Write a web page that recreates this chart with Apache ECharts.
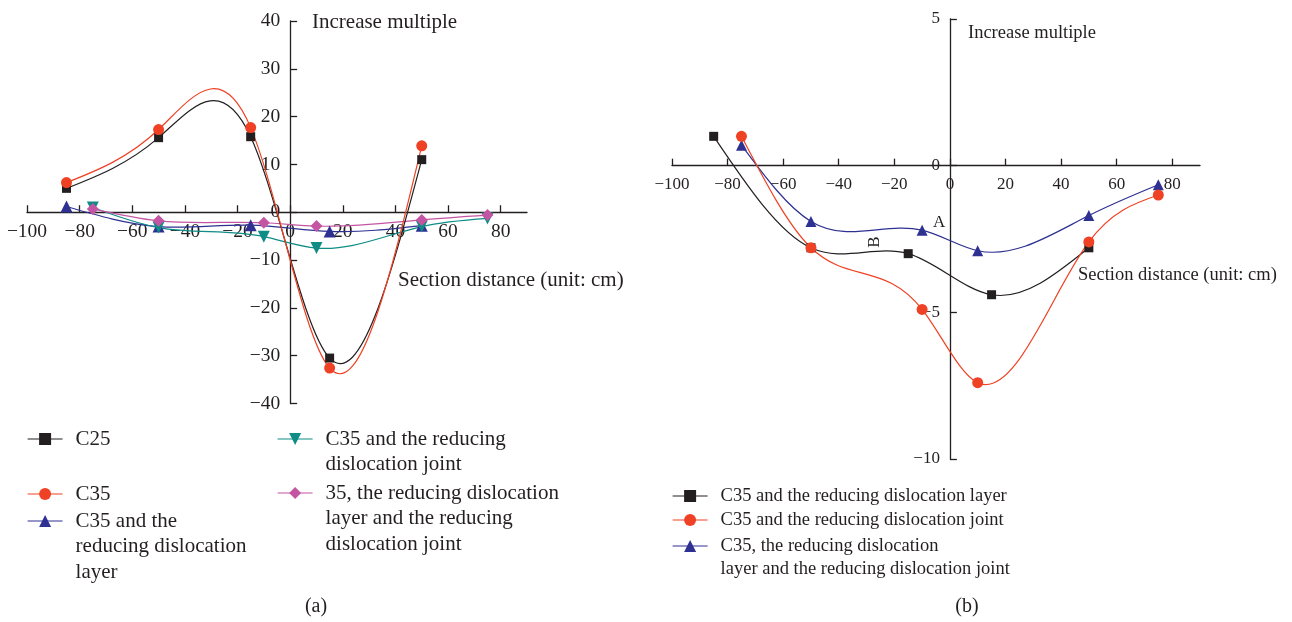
<!DOCTYPE html>
<html>
<head>
<meta charset="utf-8">
<script src="https://cdn.jsdelivr.net/npm/echarts@6/dist/echarts.min.js"></script>
<style>html,body{margin:0;padding:0;background:#fff}#c{width:1292px;height:622px}</style>
</head>
<body>
<div id="c"></div>
<script>
// ---- tick values ----
const xTicksA = [-100, -80, -60, -40, -20, 0, 20, 40, 60, 80];
const yTicksA = [-40, -30, -20, -10, 0, 10, 20, 30, 40];
const xTicksB = [-100, -80, -60, -40, -20, 0, 20, 40, 60, 80];
const yTicksB = [-10, -5, 0, 5];

// ---- chart (a) ----
const aC25X = [-85, -50, -15, 15, 50];
const aC25Y = [5.0, 15.6, 15.8, -30.5, 11.0];
const aC35X = [-85, -50, -15, 15, 50];
const aC35Y = [6.2, 17.3, 17.7, -32.6, 13.9];
const aLayerX = [-85, -50, -15, 15, 50];
const aLayerY = [1.2, -3.0, -2.7, -4.0, -2.8];
const aJointX = [-75, -50, -10, 10, 50, 75];
const aJointY = [1.0, -3.2, -5.1, -7.5, -3.0, -1.3];
const aAllX = [-75, -50, -10, 10, 50, 75];
const aAllY = [0.7, -1.8, -2.2, -2.9, -1.6, -0.6];

// ---- chart (b) ----
const bLayerX = [-85, -50, -15, 15, 50];
const bLayerY = [1.0, -2.8, -3.0, -4.4, -2.8];
const bJointX = [-75, -50, -10, 10, 50, 75];
const bJointY = [1.0, -2.8, -4.9, -7.4, -2.6, -1.0];
const bAllX = [-75, -50, -10, 10, 50, 75];
const bAllY = [0.7, -1.9, -2.2, -2.9, -1.7, -0.65];

const nameA1 = 'C25';
const nameA2 = 'C35';
const nameA3 = 'C35 and the\nreducing dislocation\nlayer';
const nameA4 = 'C35 and the reducing\ndislocation joint';
const nameA5 = '35, the reducing dislocation\nlayer and the reducing\ndislocation joint';
const nameB1 = 'C35 and the reducing dislocation layer';
const nameB2 = 'C35 and the reducing dislocation joint';
const nameB3 = 'C35, the reducing dislocation\nlayer and the reducing dislocation joint';

const FONT = '"Liberation Serif", "Times New Roman", serif';
const INK = '#231f20';
const BLACK = '#231f20', RED = '#ef4123', NAVY = '#2e3192', TEAL = '#0f8c86', PINK = '#c455a3';
const DOWN = 'path://M0,0L10,0L5,10Z';

const GA = { left: 27, top: 21, width: 500, height: 382.5 };
const GB = { left: 672, top: 19, width: 528, height: 440 };
const XR = [-100, 90], YRA = [-40, 40], YRB = [-10, 5];

function minus(v) { return String(v).replace('-', '\u2212'); }

// natural cubic spline -> list of bezier segments (in data space)
function splineSegs(xs, ys) {
  const n = xs.length, h = [], s = [];
  for (let i = 0; i < n - 1; i++) { h.push(xs[i + 1] - xs[i]); s.push((ys[i + 1] - ys[i]) / h[i]); }
  const M = new Array(n).fill(0);
  const m = n - 2;
  if (m > 0) {
    const a = [], b = [], c = [], d = [];
    for (let i = 1; i <= m; i++) {
      a.push(h[i - 1]); b.push(2 * (h[i - 1] + h[i])); c.push(h[i]); d.push(6 * (s[i] - s[i - 1]));
    }
    for (let i = 1; i < m; i++) {
      const w = a[i] / b[i - 1];
      b[i] -= w * c[i - 1]; d[i] -= w * d[i - 1];
    }
    const sol = new Array(m);
    sol[m - 1] = d[m - 1] / b[m - 1];
    for (let i = m - 2; i >= 0; i--) sol[i] = (d[i] - c[i] * sol[i + 1]) / b[i];
    for (let i = 0; i < m; i++) M[i + 1] = sol[i];
  }
  const segs = [];
  for (let i = 0; i < n - 1; i++) {
    const d0 = s[i] - h[i] * (2 * M[i] + M[i + 1]) / 6;
    const d1 = s[i] + h[i] * (M[i] + 2 * M[i + 1]) / 6;
    segs.push([
      [xs[i], ys[i]],
      [xs[i] + h[i] / 3, ys[i] + h[i] * d0 / 3],
      [xs[i + 1] - h[i] / 3, ys[i + 1] - h[i] * d1 / 3],
      [xs[i + 1], ys[i + 1]]
    ]);
  }
  return segs;
}

function xAx(gi, fs, ticks, g, yr) {
  const off = -(0 - yr[0]) / (yr[1] - yr[0]) * g.height;
  return {
    type: 'value', gridIndex: gi, min: XR[0], max: XR[1], interval: 20, position: 'bottom', offset: off,
    axisLine: { onZero: false, lineStyle: { color: INK, width: 1.3 } },
    axisTick: { inside: true, length: 7, customValues: ticks, lineStyle: { color: INK, width: 1.3 } },
    axisLabel: { customValues: ticks, formatter: minus, margin: 10, fontFamily: FONT, fontSize: fs, color: INK },
    splitLine: { show: false }
  };
}
function yAx(gi, fs, ticks, yr, iv, g) {
  const off = -(0 - XR[0]) / (XR[1] - XR[0]) * g.width;
  return {
    type: 'value', gridIndex: gi, min: yr[0], max: yr[1], interval: iv, position: 'left', offset: off,
    axisLine: { onZero: false, lineStyle: { color: INK, width: 1.3 } },
    axisTick: { inside: true, length: 7, customValues: ticks, lineStyle: { color: INK, width: 1.3 } },
    axisLabel: { customValues: ticks, formatter: minus, margin: 10, fontFamily: FONT, fontSize: fs, color: INK },
    splitLine: { show: false }
  };
}
function marks(name, xs, ys, color, symbol, size, gi) {
  return {
    name: name, type: 'line', xAxisIndex: gi, yAxisIndex: gi,
    data: xs.map((x, i) => [x, ys[i]]),
    symbol: symbol, symbolSize: size, showAllSymbol: true, z: 5,
    lineStyle: { color: color, width: 1.2, opacity: 0 }, itemStyle: { color: color },
    emphasis: { disabled: true }, silent: true
  };
}
function curve(xs, ys, color, gi) {
  const segs = splineSegs(xs, ys);
  return {
    type: 'custom', coordinateSystem: 'cartesian2d', xAxisIndex: gi, yAxisIndex: gi,
    data: xs.map((x, i) => [x, ys[i]]), clip: false, silent: true, z: 3,
    renderItem: function (params, api) {
      const i = params.dataIndex;
      if (i >= segs.length) return null;
      const p = segs[i].map(q => api.coord(q));
      return {
        type: 'bezierCurve',
        shape: { x1: p[0][0], y1: p[0][1], cpx1: p[1][0], cpy1: p[1][1], cpx2: p[2][0], cpy2: p[2][1], x2: p[3][0], y2: p[3][1] },
        style: { stroke: color, lineWidth: 1.2, fill: 'none' }
      };
    }
  };
}
function lg(name, left, c, N, L, fs, color) {
  return {
    data: [name], left: left, top: c - (2 * N - 1) * L / 2, orient: 'vertical', padding: 0,
    itemWidth: 35, itemHeight: 15, selectedMode: false,
    lineStyle: { color: color, width: 1.2, opacity: 1 },
    formatter: function (nm) { return '\n'.repeat(N - 1) + nm; },
    textStyle: { fontFamily: FONT, fontSize: fs, color: INK, lineHeight: L, padding: [0, 0, 0, 8] }
  };
}
function txt(s, x, y, fs, align, rot) {
  return {
    type: 'text', x: x, y: y, silent: true, rotation: rot || 0,
    style: { text: s, fontFamily: FONT, fontSize: fs, fill: INK, align: align || 'left', verticalAlign: 'middle' }
  };
}

const LA = 25.8, FA = 21, LB = 23.5, FB = 18.5;

const option = {
  animation: false,
  grid: [
    Object.assign({ containLabel: false, outerBoundsMode: 'none' }, GA),
    Object.assign({ containLabel: false, outerBoundsMode: 'none' }, GB)
  ],
  xAxis: [xAx(0, 19.5, xTicksA, GA, YRA), xAx(1, 17, xTicksB, GB, YRB)],
  yAxis: [yAx(0, 19.5, yTicksA, YRA, 10, GA), yAx(1, 17, yTicksB, YRB, 5, GB)],
  legend: [
    lg(nameA1, 27, 439, 1, LA, FA, BLACK),
    lg(nameA2, 27, 494, 1, LA, FA, RED),
    lg(nameA3, 27, 521, 3, LA, FA, NAVY),
    lg(nameA4, 277, 439, 2, LA, FA, TEAL),
    lg(nameA5, 277, 493, 3, LA, FA, PINK),
    lg(nameB1, 672, 496, 1, LB, FB, BLACK),
    lg(nameB2, 672, 520, 1, LB, FB, RED),
    lg(nameB3, 672, 546, 2, LB, FB, NAVY)
  ],
  series: [
    curve(aLayerX, aLayerY, NAVY, 0),
    curve(aJointX, aJointY, TEAL, 0),
    curve(aAllX, aAllY, PINK, 0),
    curve(aC25X, aC25Y, BLACK, 0),
    curve(aC35X, aC35Y, RED, 0),
    marks(nameA3, aLayerX, aLayerY, NAVY, 'triangle', 12, 0),
    marks(nameA4, aJointX, aJointY, TEAL, DOWN, 12, 0),
    marks(nameA5, aAllX, aAllY, PINK, 'diamond', 12, 0),
    marks(nameA1, aC25X, aC25Y, BLACK, 'rect', 9, 0),
    marks(nameA2, aC35X, aC35Y, RED, 'circle', 11, 0),
    curve(bAllX, bAllY, NAVY, 1),
    curve(bLayerX, bLayerY, BLACK, 1),
    curve(bJointX, bJointY, RED, 1),
    marks(nameB3, bAllX, bAllY, NAVY, 'triangle', 11, 1),
    marks(nameB1, bLayerX, bLayerY, BLACK, 'rect', 9, 1),
    marks(nameB2, bJointX, bJointY, RED, 'circle', 11, 1)
  ],
  graphic: [
    txt('Increase multiple', 312, 22, FA),
    txt('Section distance (unit: cm)', 398, 280, FA),
    txt('Increase multiple', 968, 33, FB),
    txt('Section distance (unit: cm)', 1078, 275, FB),
    txt('A', 933, 223, 17),
    txt('B', 875, 242, 17, 'center', Math.PI / 2),
    txt('(a)', 316, 607, 20, 'center'),
    txt('(b)', 967, 607, 20, 'center')
  ]
};

const chart = echarts.init(document.getElementById('c'), null, { renderer: 'canvas' });
chart.setOption(option);
</script>
</body>
</html>
